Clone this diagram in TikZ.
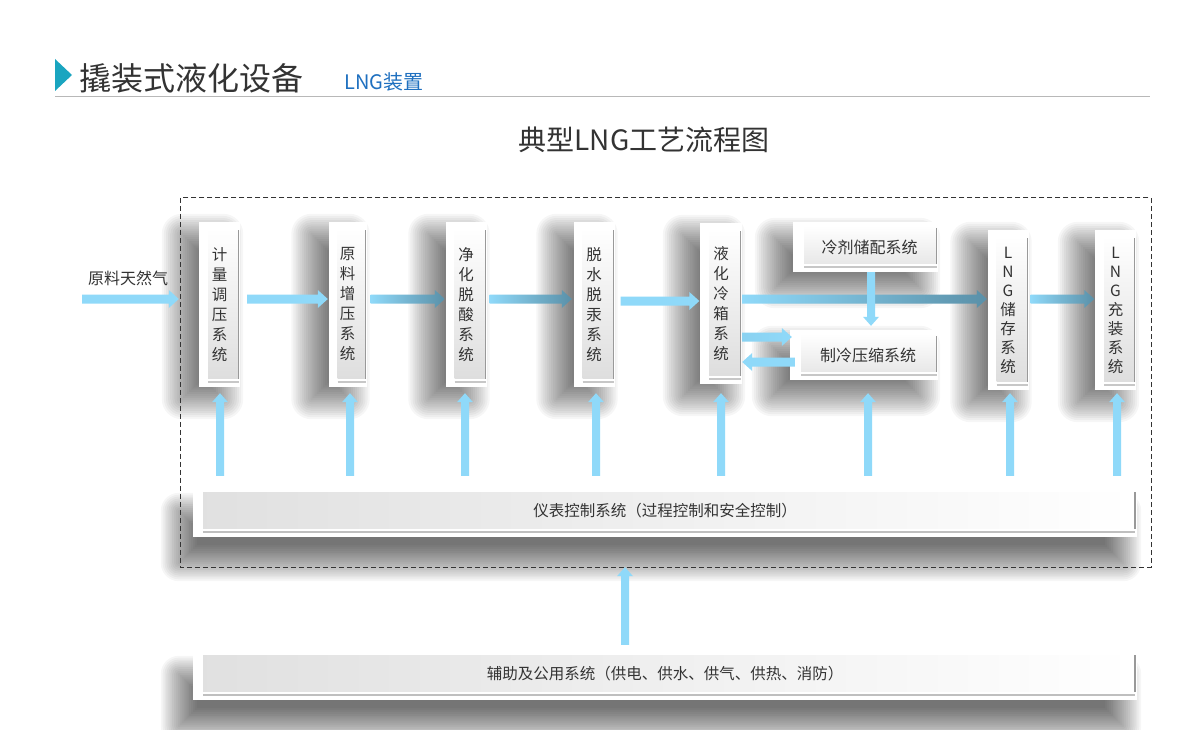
\documentclass[tikz,border=0pt]{standalone}
\usepackage{fontspec}
\setmainfont{Noto Sans CJK SC}
\usetikzlibrary{calc}
\pgfdeclarelayer{base}
\pgfdeclarelayer{background}
\pgfsetlayers{base,background,main}
\definecolor{ab}{HTML}{8FD9F9}
\definecolor{ad}{HTML}{5A90A8}
\definecolor{tx}{HTML}{333333}
\definecolor{teal}{HTML}{1AA5C0}
\definecolor{subblue}{HTML}{1F70C0}
\newcommand\harr[3]{\path[#3] let \p1=#1, \p2=#2, \n1={sign(\x2-\x1)} in
  (\x1,\y1+4.5pt) -- (\x2-10pt*\n1,\y1+4.5pt) -- (\x2-10pt*\n1,\y1+9pt) -- (\x2,\y1)
  -- (\x2-10pt*\n1,\y1-9pt) -- (\x2-10pt*\n1,\y1-4.5pt) -- (\x1,\y1-4.5pt) -- cycle;}
\newcommand\varr[3]{\path[#3] let \p1=#1, \p2=#2, \n1={sign(\y2-\y1)} in
  (\x1+4pt,\y1) -- (\x1+4pt,\y2-9pt*\n1) -- (\x1+8pt,\y2-9pt*\n1) -- (\x1,\y2)
  -- (\x1-8pt,\y2-9pt*\n1) -- (\x1-4pt,\y2-9pt*\n1) -- (\x1-4pt,\y1) -- cycle;}
% soft shadow: node, dx (right), dy (down), radius
\newcommand\sshadow[4]{\begin{pgfonlayer}{background}
  \foreach \i in {0,...,19}{
    \pgfmathsetmacro\e{#4*(\i/19)*2-#4}
    \pgfmathsetmacro\rr{max(\e,0)+0.1}
    \fill[black, opacity=0.036, rounded corners=\rr pt]
      ($(#1.north west)+(#2pt-\e pt,-#3pt+\e pt)$) rectangle ($(#1.south east)+(#2pt+\e pt,-#3pt-\e pt)$);
  }\end{pgfonlayer}}
\tikzset{
  vbox/.style={fill=white, inner sep=0pt, minimum width=41pt, minimum height=165pt, align=center,
    text=tx, font=\fontsize{15.5}{20}\selectfont,
    path picture={
      \path (path picture bounding box.north west) coordinate (nw)
            (path picture bounding box.south east) coordinate (se);
      \shade[top color=white, bottom color=black!13] ($(nw)+(9pt,-6pt)$) rectangle ($(se)+(-1pt,9pt)$);
      \draw[black!40, line width=1.2pt] ($(se)+(-1.2pt,8pt)$) -- ($(se|-nw)+(-1.2pt,-8pt)$);
      \draw[black!22, line width=1.2pt] ($(nw|-se)+(9pt,5pt)$) -- ($(se)+(-1pt,5pt)$);
    }},
  hbox/.style={fill=white, inner sep=0pt, minimum height=50pt, text=tx, font=\fontsize{16}{18}\selectfont,
    path picture={
      \path (path picture bounding box.north west) coordinate (nw)
            (path picture bounding box.south east) coordinate (se);
      \shade[top color=white, bottom color=black!9] ($(nw)+(11pt,-4pt)$) rectangle ($(se)+(-1pt,9pt)$);
      \draw[black!40, line width=1.2pt] ($(se)+(-1.2pt,8pt)$) -- ($(se|-nw)+(-1.2pt,-6pt)$);
      \draw[black!22, line width=1.2pt] ($(nw|-se)+(11pt,5pt)$) -- ($(se)+(-1pt,5pt)$);
    }},
  bar/.style={fill=white, inner sep=0pt, minimum width=944pt, minimum height=52pt, text=tx,
    font=\fontsize{15.5}{18}\selectfont,
    path picture={
      \path (path picture bounding box.north west) coordinate (nw)
            (path picture bounding box.south east) coordinate (se);
      \shade[left color=black!12, right color=white] ($(nw)+(10pt,-7pt)$) rectangle ($(se)+(-2pt,9pt)$);
      \draw[black!40, line width=1.2pt] ($(se)+(-2pt,8pt)$) -- ($(se|-nw)+(-2pt,-7pt)$);
      \draw[black!25, line width=1.2pt] ($(nw|-se)+(10pt,5pt)$) -- ($(se)+(-2pt,5pt)$);
    }},
  solid/.style={fill=ab},
  grad/.style={left color=ab, right color=ad},
  grad2/.style={left color=ab, middle color=ab, right color=ad}
}
\begin{document}
\begin{tikzpicture}[x=1pt,y=-1pt]
\begin{pgfonlayer}{base}
\fill[white] (0,0) rectangle (1190,730);
\end{pgfonlayer}
\useasboundingbox (0,0) rectangle (1190,730);
% header
\fill[teal] (55,59) -- (72,75) -- (55,91) -- cycle;
\node[anchor=west, text=tx, font=\fontsize{32}{34}\selectfont, inner sep=0pt] (title) at (79,78) {撬装式液化设备};
\node[anchor=west, text=subblue, font=\fontsize{20}{22}\selectfont, inner sep=0pt] (sub) at (344,82) {LNG装置};
\draw[black!28, line width=1pt] (55,97) -- (1150,97);
\node[text=tx, font=\fontsize{28}{30}\selectfont] (head) at (644,140) {典型LNG工艺流程图};
% coordinates
\coordinate (row) at (0,299);
\coordinate (feed) at (82,299);
\path node[minimum width=970pt, minimum height=369pt, inner sep=0pt] (frame) at (666,382.5) {};
% boxes
\node[vbox] (b1) at (219.5,304.5) {计\\量\\调\\压\\系\\统};
\node[vbox, minimum width=38pt] (b2) at (347.5,304.5) {原\\料\\增\\压\\系\\统};
\node[vbox] (b3) at (466,304.5) {净\\化\\脱\\酸\\系\\统};
\node[vbox] (b4) at (594,304.5) {脱\\水\\脱\\汞\\系\\统};
\node[vbox, minimum width=42pt, minimum height=161pt] (b5) at (721,303.5) {液\\化\\冷\\箱\\系\\统};
\node[vbox, minimum height=160pt, font=\fontsize{15.5}{19}\selectfont] (b6) at (1008,310) {L\\N\\G\\储\\存\\系\\统};
\node[vbox, minimum height=160pt, font=\fontsize{15.5}{19}\selectfont] (b7) at (1115.5,310) {L\\N\\G\\充\\装\\系\\统};
\node[hbox, minimum width=145pt] (r1) at (865.5,247) {\hspace*{8pt}冷剂储配系统};
\node[hbox, minimum width=148pt] (r2) at (864,355) {\hspace*{8pt}制冷压缩系统};
\node[bar] (ctrl) at (665,511) {仪表控制系统（过程控制和安全控制）};
\node[bar] (aux) at (665,674) {辅助及公用系统（供电、供水、供气、供热、消防）};
% shadows
\foreach \n in {b1,b2,b3,b4,b5,b6,b7}{\sshadow{\n}{-17}{12}{20}}
\sshadow{r1}{-18}{16}{20}
\sshadow{r2}{-18}{16}{20}
\sshadow{ctrl}{-14}{26}{18}
\sshadow{aux}{-14}{26}{18}
% feed label
\node[text=tx, font=\fontsize{16}{18}\selectfont] (feedlbl) at (128,278) {原料天然气};
% horizontal arrows
\harr{(feed)}{($(b1.west)+(-20pt,0)$)}{solid}
\harr{($(b1.east |- row)+(7pt,0)$)}{($(b2.west)+(-0.5pt,0)$)}{solid}
\harr{($(b2.east |- row)+(4pt,0)$)}{($(b3.west)+(-0.5pt,0)$)}{grad}
\harr{($(b3.east |- row)+(3pt,0)$)}{($(b4.west)+(-1.5pt,0)$)}{grad}
\harr{($(b4.east |- row)+(6pt,-2pt)$)}{($(b5.west)+(-0.5pt,0)$)}{solid}
\harr{($(b5.east |- row)$)}{($(b6.west)+(-0.5pt,0)$)}{grad2}
\harr{($(b6.east |- row)+(2pt,0)$)}{($(b7.west)+(-0.5pt,0)$)}{grad}
\harr{($(b5.east)+(0,-33.5pt)$)}{($(r2.west)+(2pt,0)$)}{left color=ab!90!ad, right color=ab}
\harr{($(r2.west)+(5pt,-7pt)$)}{($(b5.east)+(0,0)$)}{solid}
% vertical arrows
\varr{($(r1.south)+(5.5pt,0)$)}{($(r2.north)+(0,4pt)$)}{solid}
\foreach \b/\dx/\dy in {b1/0.5/6,b2/2.5/6,b3/-1/6,b4/2/6,b5/0/9,b6/2/3,b7/1.5/3}{
  \varr{($(\b.south |- ctrl.north)+(\dx pt,9pt)$)}{($(\b.south)+(\dx pt,-\dy pt)$)}{solid}
}
\varr{($(r2.south |- ctrl.north)+(4pt,9pt)$)}{($(r2.south)+(4pt,-13pt)$)}{solid}
\varr{($(aux.north)+(-40pt,3pt)$)}{(frame.south)}{solid}
% dashed frame
\draw[black!80, dash pattern=on 5pt off 3pt, line width=0.8pt] (frame.north west) rectangle (frame.south east);
\end{tikzpicture}
\end{document}
